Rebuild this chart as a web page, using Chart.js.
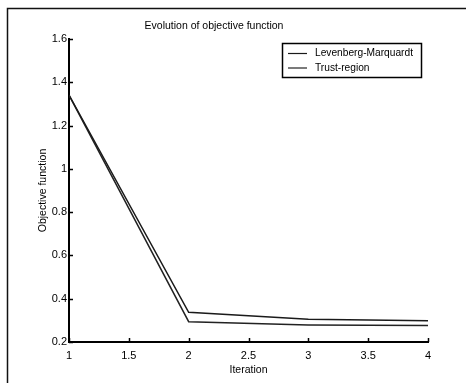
<!DOCTYPE html>
<html>
<head>
<meta charset="utf-8">
<title>Evolution of objective function</title>
<script src="https://cdn.jsdelivr.net/npm/chart.js@4.4.1/dist/chart.umd.min.js"></script>
<style>
    html, body { margin: 0; padding: 0; background: #fff; }
    #wrap { width: 466px; height: 383px; }
</style>
</head>
<body>
<div id="wrap"><canvas id="grafico" width="466" height="383"></canvas></div>
<script>
// iteraciones y valores de la funcion objetivo
const iteraciones = [1, 2, 3, 4];
const levenbergMarquardt = [1.341, 0.337, 0.305, 0.298];
const trustRegion = [1.341, 0.294, 0.279, 0.276];
const nombres = ['Levenberg-Marquardt', 'Trust-region'];
const ticksX = [1, 1.5, 2, 2.5, 3, 3.5, 4];
const ticksY = [0.2, 0.4, 0.6, 0.8, 1, 1.2, 1.4, 1.6];

const fuente = "'Liberation Sans', Arial, sans-serif";

function puntos(valores) {
    return iteraciones.map((it, i) => ({ x: it, y: valores[i] }));
}

// marco exterior (solo arriba e izquierda)
const marco = {
    id: 'marco',
    beforeDraw(chart) {
        const ctx = chart.ctx;
        ctx.save();
        ctx.fillStyle = '#fff';
        ctx.fillRect(0, 0, chart.width, chart.height);
        ctx.strokeStyle = '#111';
        ctx.lineWidth = 1.5;
        ctx.beginPath();
        ctx.moveTo(7.5, chart.height);
        ctx.lineTo(7.5, 8.5);
        ctx.lineTo(chart.width, 8.5);
        ctx.stroke();
        ctx.restore();
    }
};

// marcas de los ticks hacia dentro, como en matlab
const marcas = {
    id: 'marcas',
    afterDraw(chart) {
        const ctx = chart.ctx;
        const x = chart.scales.x;
        const y = chart.scales.y;
        ctx.save();
        ctx.strokeStyle = '#000';
        ctx.lineWidth = 1.5;
        ctx.beginPath();
        ticksY.forEach(v => {
            const py = Math.round(y.getPixelForValue(v)) + 0.5;
            ctx.moveTo(x.left, py);
            ctx.lineTo(x.left + 4, py);
        });
        ticksX.forEach(v => {
            const px = Math.round(x.getPixelForValue(v)) + 0.5;
            ctx.moveTo(px, y.bottom);
            ctx.lineTo(px, y.bottom - 4);
        });
        ctx.stroke();
        ctx.restore();
    }
};

// leyenda con caja dentro del area
const leyenda = {
    id: 'leyenda',
    afterDraw(chart) {
        const ctx = chart.ctx;
        const caja = { x: 282.5, y: 43.5, w: 139, h: 34 };
        ctx.save();
        ctx.fillStyle = '#fff';
        ctx.fillRect(caja.x, caja.y, caja.w, caja.h);
        ctx.strokeStyle = '#000';
        ctx.lineWidth = 1.5;
        ctx.strokeRect(caja.x, caja.y, caja.w, caja.h);
        ctx.font = '10.2px ' + fuente;
        ctx.textBaseline = 'middle';
        ctx.textAlign = 'left';
        chart.data.datasets.forEach((ds, i) => {
            const ly = 53.5 + i * 14.5;
            ctx.strokeStyle = ds.borderColor;
            ctx.lineWidth = 1.2;
            ctx.beginPath();
            ctx.moveTo(288, ly);
            ctx.lineTo(307, ly);
            ctx.stroke();
            ctx.fillStyle = '#000';
            ctx.fillText(ds.label, 315, ly);
        });
        ctx.restore();
    }
};

window.addEventListener('load', () => {
    const canvas = document.getElementById('grafico');
    new Chart(canvas, {
        type: 'line',
        data: {
            datasets: [
                {
                    label: nombres[0],
                    data: puntos(levenbergMarquardt),
                    borderColor: '#1a1a1a',
                    borderWidth: 1.5,
                    pointRadius: 0,
                    tension: 0
                },
                {
                    label: nombres[1],
                    data: puntos(trustRegion),
                    borderColor: '#222',
                    borderWidth: 1.5,
                    pointRadius: 0,
                    tension: 0
                }
            ]
        },
        options: {
            responsive: false,
            animation: false,
            devicePixelRatio: 1,
            layout: { padding: { left: 0, right: 38, top: 0, bottom: 0 } },
            plugins: {
                legend: { display: false },
                tooltip: { enabled: false },
                title: {
                    display: true,
                    text: 'Evolution of objective function',
                    color: '#000',
                    font: { family: fuente, size: 10.5, weight: 'normal', lineHeight: 1.2 },
                    padding: { top: 19.7, bottom: 6.7 }
                }
            },
            scales: {
                x: {
                    type: 'linear',
                    min: 1,
                    max: 4,
                    afterFit: s => { s.height = 41; },
                    afterBuildTicks: s => { s.ticks = ticksX.map(v => ({ value: v })); },
                    grid: { display: false, drawTicks: false },
                    border: { display: true, color: '#000', width: 2 },
                    ticks: {
                        color: '#000',
                        padding: 7,
                        maxRotation: 0,
                        font: { family: fuente, size: 11 },
                        callback: v => String(+v.toFixed(2))
                    },
                    title: {
                        display: true,
                        text: 'Iteration',
                        color: '#000',
                        font: { family: fuente, size: 10.5, lineHeight: 1.2 },
                        padding: { top: 0, bottom: 6.7 }
                    }
                },
                y: {
                    min: 0.2,
                    max: 1.6,
                    afterFit: s => { s.width = 69; },
                    afterBuildTicks: s => { s.ticks = ticksY.map(v => ({ value: v })); },
                    grid: { display: false, drawTicks: false },
                    border: { display: true, color: '#000', width: 2 },
                    ticks: {
                        color: '#000',
                        padding: 2,
                        font: { family: fuente, size: 11 },
                        callback: v => String(+v.toFixed(2))
                    },
                    title: {
                        display: true,
                        text: 'Objective function',
                        color: '#000',
                        font: { family: fuente, size: 10.5, lineHeight: 1.2 },
                        padding: { top: 36.7, bottom: 0 }
                    }
                }
            }
        },
        plugins: [marco, marcas, leyenda]
    });
});
</script>
</body>
</html>
